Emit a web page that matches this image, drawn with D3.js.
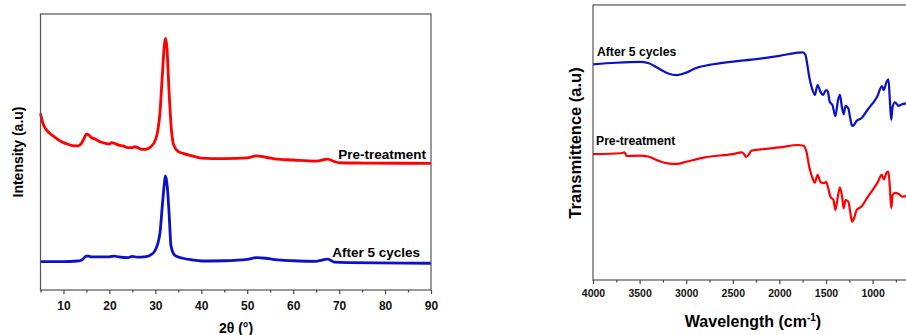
<!DOCTYPE html>
<html>
<head>
<meta charset="utf-8">
<script src="https://d3js.org/d3.v7.min.js"></script>
<style>
  body { margin: 0; background: #ffffff; }
  svg { display: block; font-family: "Liberation Sans", Arial, sans-serif; font-weight: bold; }
  .frame { fill: none; stroke: #555555; stroke-width: 1.2; }
  .axis path, .axis line { stroke: #444444; stroke-width: 1.2; }
</style>
</head>
<body>
<div id="chart"></div>
<script>
// XRD: 2theta positions and intensities (a.u., already offset for stacking)
var xrdTheta = [5, 5.5, 6, 7, 8, 9, 10, 11, 12, 13, 13.8, 14.5, 15, 15.5, 16, 17, 18, 19, 20, 20.5,
                21, 22, 23, 24, 25, 25.5, 26, 27, 28, 29, 30, 30.5, 31, 31.5, 32, 32.2, 32.5, 33,
                33.5, 34, 35, 36, 38, 40, 45, 50, 52, 54, 56, 60, 65, 67.5, 69, 70, 75, 90];
var xrdPre = [64.0, 60.5, 58.7, 56.8, 55.5, 54.3, 53.4, 52.8, 52.3, 52.2, 52.9, 55.0, 56.5, 56.2, 55.3,
              54.6, 53.7, 53.2, 52.9, 53.4, 53.2, 52.5, 52.2, 51.6, 51.6, 51.9, 51.7, 51.0, 51.0, 51.9,
              54.3, 57.4, 64.1, 77.3, 89.4, 91.2, 88.2, 71.3, 58.0, 52.5, 50.1, 49.5, 48.6, 47.8, 47.6,
              47.9, 48.6, 48.1, 47.5, 47.1, 46.7, 47.4, 46.5, 46.1, 46.0, 45.9];

var xrdThetaB = [5, 10, 13, 14, 15, 15.5, 16, 18, 20, 21, 22, 24, 25, 26, 28, 29, 30, 31, 31.5, 32,
                 32.2, 32.6, 33, 33.4, 34, 34.5, 36, 38, 40, 45, 50, 52, 54, 56, 60, 65, 67.5, 69, 72, 90];
var xrdAfter = [10.3, 10.3, 10.5, 10.9, 12.3, 12.3, 12.0, 12.0, 12.0, 12.3, 12.0, 11.7, 12.2, 11.9, 12.1,
                12.7, 14.5, 20.6, 30.2, 39.2, 41.3, 37.4, 27.5, 16.0, 13.0, 12.3, 11.5, 10.9, 10.5, 10.6,
                11.1, 11.7, 11.5, 11.0, 10.6, 10.4, 11.2, 10.1, 9.9, 9.7];
var xrdTicks = [10, 20, 30, 40, 50, 60, 70, 80, 90];

// FTIR: wavenumbers and transmittance (a.u., offset for stacking)
var irWave = [4000, 3750, 3500, 3400, 3300, 3200, 3100, 3000, 2900, 2750, 2500, 2250, 2000, 1800, 1750,
              1720, 1700, 1680, 1650, 1620, 1590, 1560, 1530, 1500, 1480, 1460, 1430, 1400, 1370, 1350,
              1330, 1310, 1290, 1260, 1240, 1220, 1200, 1170, 1120, 1050, 1000, 950, 900, 880, 850, 830,
              815, 800, 785, 760, 720, 680, 640, 600];
var irAfter = [78.4, 79.0, 79.3, 78.8, 77.0, 75.2, 74.5, 75.4, 77.0, 78.2, 79.4, 80.3, 81.5, 82.7, 82.8,
               81.8, 78.2, 73.9, 69.7, 67.3, 70.9, 68.5, 67.3, 69.1, 68.5, 64.8, 63.6, 59.6, 65.5, 67.3,
               63.0, 60.3, 63.3, 62.4, 58.8, 56.0, 56.4, 57.9, 58.8, 62.1, 64.2, 66.7, 70.5, 69.1, 72.1, 73.0,
               65.5, 58.2, 63.0, 64.6, 63.3, 64.0, 64.2, 64.3];

var irWaveR = [4000, 3700, 3660, 3640, 3500, 3400, 3300, 3200, 3100, 3000, 2800, 2500, 2400, 2380, 2360,
               2330, 2300, 2200, 2000, 1800, 1740, 1710, 1680, 1650, 1620, 1590, 1560, 1520, 1500, 1480,
               1450, 1420, 1400, 1370, 1350, 1320, 1310, 1290, 1260, 1240, 1220, 1200, 1170, 1120, 1050,
               1000, 950, 900, 880, 850, 830, 815, 800, 785, 760, 720, 680, 640, 600];
var irPre = [45.8, 46.1, 46.4, 45.1, 45.2, 44.8, 43.4, 42.4, 42.2, 43.0, 44.6, 45.8, 46.4, 45.8, 44.8,
             45.5, 47.0, 47.5, 48.2, 49.1, 48.8, 46.7, 41.2, 37.6, 35.4, 38.2, 35.7, 35.2, 35.7, 33.9,
             30.1, 29.1, 25.5, 30.9, 33.7, 28.5, 26.1, 29.1, 28.5, 24.8, 21.2, 22.4, 25.5, 26.7, 30.3,
             32.7, 35.2, 38.2, 36.6, 39.0, 39.4, 33.9, 26.1, 30.9, 31.7, 31.3, 30.3, 30.5, 30.6];
var irTicks = [4000, 3500, 3000, 2500, 2000, 1500, 1000];

var svg = d3.select("#chart")
            .append("svg")
              .attr("width", 906)
              .attr("height", 335);

//---------------- left panel: XRD ----------------
var xl = d3.scaleLinear().domain([5, 90]).range([40.5, 431]);
var yl = d3.scaleLinear().domain([0, 100]).range([290, 14]);

var xrdLine = d3.line()
                .x(d => xl(d[0]))
                .y(d => yl(d[1]))
                .curve(d3.curveMonotoneX);

svg.append("path")
   .datum(d3.zip(xrdTheta, xrdPre))
   .attr("d", xrdLine)
   .attr("fill", "none")
   .attr("stroke", "#ff0000")
   .attr("stroke-width", 2.8);

svg.append("path")
   .datum(d3.zip(xrdThetaB, xrdAfter))
   .attr("d", xrdLine)
   .attr("fill", "none")
   .attr("stroke", "#0a10cc")
   .attr("stroke-width", 2.8);

svg.append("rect")
   .attr("class", "frame")
   .attr("x", 40.5).attr("y", 14)
   .attr("width", 431 - 40.5).attr("height", 290 - 14);

//minor ticks every 5 degrees, major ones labelled
svg.append("g")
   .attr("class", "axis")
   .attr("transform", "translate(0,290)")
   .call(d3.axisBottom(xl).tickValues(d3.range(5, 91, 10)).tickSize(2.5).tickFormat(""))
   .call(g => g.select(".domain").remove());

svg.append("g")
   .attr("class", "axis")
   .attr("transform", "translate(0,290)")
   .call(d3.axisBottom(xl).tickValues(xrdTicks).tickSize(4).tickPadding(7))
   .call(g => g.select(".domain").remove())
   .selectAll("text")
     .attr("font-size", 12)
     .attr("font-family", "Liberation Sans, Arial, sans-serif")
     .attr("font-weight", "bold")
     .attr("fill", "#111");

svg.append("text")
   .attr("x", 236).attr("y", 333)
   .attr("text-anchor", "middle")
   .attr("font-size", 14)
   .text("2θ (°)");

svg.append("text")
   .attr("transform", "translate(23,152) rotate(-90)")
   .attr("text-anchor", "middle")
   .attr("font-size", 14)
   .text("Intensity (a.u)");

svg.append("text")
   .attr("x", 426).attr("y", 159)
   .attr("text-anchor", "end")
   .attr("font-size", 13.5)
   .text("Pre-treatment");

svg.append("text")
   .attr("x", 420).attr("y", 257)
   .attr("text-anchor", "end")
   .attr("font-size", 13.5)
   .text("After 5 cycles");

//---------------- right panel: FTIR ----------------
var xr = d3.scaleLinear().domain([4000, 400]).range([593, 928.5]);
var yr = d3.scaleLinear().domain([0, 100]).range([280, 5]);

var irLine = d3.line()
               .x(d => xr(d[0]))
               .y(d => yr(d[1]))
               .curve(d3.curveMonotoneX);

svg.append("path")
   .datum(d3.zip(irWave, irAfter))
   .attr("d", irLine)
   .attr("fill", "none")
   .attr("stroke", "#0a10cc")
   .attr("stroke-width", 2.2);

svg.append("path")
   .datum(d3.zip(irWaveR, irPre))
   .attr("d", irLine)
   .attr("fill", "none")
   .attr("stroke", "#ff0000")
   .attr("stroke-width", 2.2);

svg.append("rect")
   .attr("class", "frame")
   .attr("x", 593).attr("y", 5)
   .attr("width", 928.5 - 593).attr("height", 280 - 5);

svg.append("g")
   .attr("class", "axis")
   .attr("transform", "translate(0,280)")
   .call(d3.axisBottom(xr).tickValues(d3.range(3750, 400, -500)).tickSize(2.5).tickFormat(""))
   .call(g => g.select(".domain").remove());

svg.append("g")
   .attr("class", "axis")
   .attr("transform", "translate(0,280)")
   .call(d3.axisBottom(xr).tickValues(irTicks).tickSize(4).tickPadding(6).tickFormat(d3.format("d")))
   .call(g => g.select(".domain").remove())
   .selectAll("text")
     .attr("font-size", 10.5)
     .attr("font-family", "Liberation Sans, Arial, sans-serif")
     .attr("font-weight", "bold")
     .attr("fill", "#111");

var wl = svg.append("text")
            .attr("x", 753).attr("y", 327)
            .attr("text-anchor", "middle")
            .attr("font-size", 16);
wl.append("tspan").text("Wavelength (cm");
wl.append("tspan").attr("dy", -6).attr("font-size", 10).text("-1");
wl.append("tspan").attr("dy", 6).text(")");

svg.append("text")
   .attr("transform", "translate(581,143) rotate(-90)")
   .attr("text-anchor", "middle")
   .attr("font-size", 16.5)
   .text("Transmittence (a.u)");

svg.append("text")
   .attr("x", 597).attr("y", 56)
   .attr("font-size", 12.2)
   .text("After 5 cycles");

svg.append("text")
   .attr("x", 596).attr("y", 145)
   .attr("font-size", 12.2)
   .text("Pre-treatment");
</script>
</body>
</html>
